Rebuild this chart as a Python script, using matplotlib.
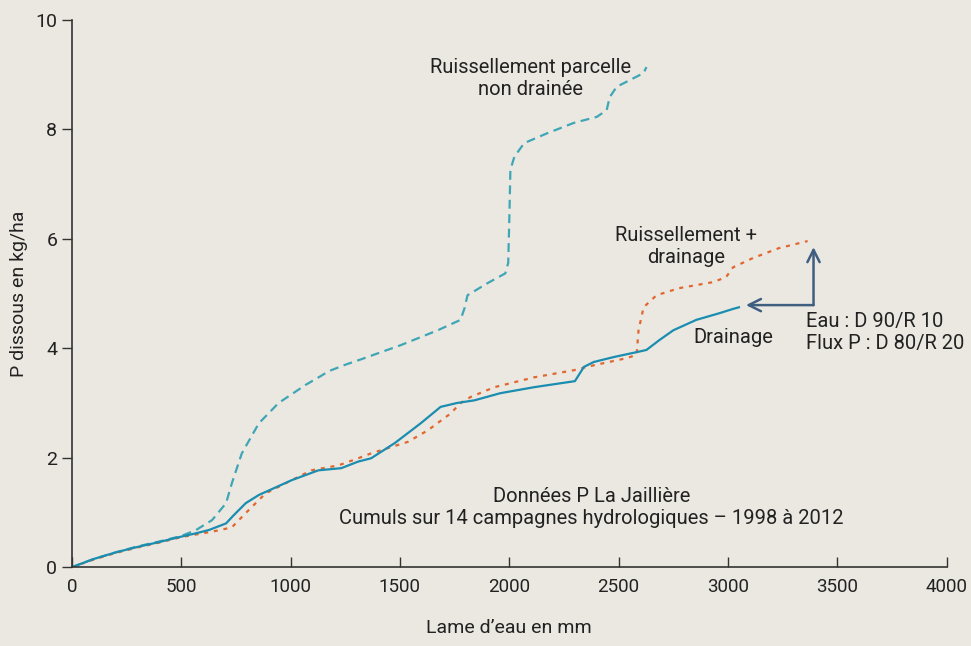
import numpy as np
import matplotlib
matplotlib.use("Agg")
import matplotlib.pyplot as plt

plt.rcParams['font.family'] = ['Roboto', 'DejaVu Sans']

# --- data
drain_x = [0, 100, 200, 300, 400, 491, 568, 627, 705, 740, 795, 855, 1005, 1127, 1232, 1309,
           1368, 1477, 1595, 1686, 1760, 1841, 1959, 2114, 2232, 2300, 2341, 2386, 2477, 2582,
           2627, 2686, 2750, 2855, 2959, 3023, 3050]
drain_y = [0, 0.15, 0.27, 0.37, 0.46, 0.55, 0.62, 0.68, 0.80, 0.95, 1.17, 1.32, 1.59, 1.77, 1.81, 1.93,
           1.99, 2.27, 2.63, 2.93, 3.00, 3.05, 3.18, 3.29, 3.36, 3.40, 3.66, 3.75, 3.84, 3.93,
           3.97, 4.15, 4.33, 4.52, 4.64, 4.72, 4.75]

both_x = [0, 100, 200, 300, 400, 500, 600, 680, 732, 795, 886, 1005, 1095, 1218, 1309, 1368,
          1536, 1627, 1732, 1777, 1823, 1932, 2114, 2295, 2386, 2536, 2582, 2591, 2614, 2673,
          2777, 2932, 2991, 3023, 3114, 3232, 3364]
both_y = [0, 0.14, 0.26, 0.36, 0.45, 0.55, 0.62, 0.68, 0.73, 0.99, 1.35, 1.59, 1.77, 1.86, 1.99, 2.08,
          2.29, 2.50, 2.81, 3.00, 3.11, 3.29, 3.47, 3.60, 3.69, 3.82, 3.88, 4.33, 4.75, 4.97,
          5.10, 5.21, 5.30, 5.48, 5.65, 5.83, 5.96]

runoff_x = [0, 100, 200, 300, 400, 500, 568, 641, 705, 732, 777, 855, 945, 1068, 1141, 1173,
            1250, 1323, 1505, 1673, 1777, 1795, 1809, 1900, 1982, 1995, 2000, 2005, 2023, 2068,
            2173, 2295, 2400, 2445, 2459, 2491, 2550, 2614, 2627]
runoff_y = [0, 0.15, 0.27, 0.38, 0.47, 0.57, 0.68, 0.86, 1.17, 1.54, 2.08, 2.63, 3.00, 3.33, 3.50, 3.58,
            3.70, 3.80, 4.06, 4.33, 4.52, 4.73, 4.97, 5.19, 5.37, 5.56, 6.34, 7.26, 7.50, 7.75,
            7.93, 8.12, 8.23, 8.35, 8.59, 8.78, 8.90, 9.03, 9.14]

bg = '#ebe8e1'
txt = '#222222'
fs = 14.5
fig = plt.figure(figsize=(9.71, 6.46), dpi=100, facecolor=bg)
ax = fig.add_axes([0.074, 0.122, 0.901, 0.847], facecolor=bg)

ax.plot(runoff_x, runoff_y, color='#3fa6b6', lw=1.6, dashes=(4, 2.5))
ax.plot(both_x, both_y, color='#e2672f', lw=1.6, dashes=(1.8, 2.6))
ax.plot(drain_x, drain_y, color='#1a8db0', lw=1.6)

ax.set_xlim(0, 4000)
ax.set_ylim(0, 10)
ax.set_xticks(np.arange(0, 4001, 500))
ax.set_yticks(np.arange(0, 11, 2))
for s in ['top', 'right']:
    ax.spines[s].set_visible(False)
for s in ['left', 'bottom']:
    ax.spines[s].set_color('#333333')
    ax.spines[s].set_linewidth(1.2)
ax.tick_params(axis='x', direction='in', length=7, width=1, colors='#333333',
               labelsize=13.5, pad=8, labelcolor=txt)
ax.tick_params(axis='y', direction='out', length=7, width=1, colors='#333333',
               labelsize=14, labelcolor=txt)
ax.set_xlabel("Lame d\u2019eau en mm", fontsize=14, color=txt, labelpad=16)
ax.set_ylabel("P dissous en kg/ha", fontsize=14, color=txt, labelpad=5)

ax.text(2098, 8.93, "Ruissellement parcelle\nnon drainée", ha='center', va='center',
        fontsize=fs, color=txt, linespacing=1.2)
ax.text(2809, 5.86, "Ruissellement +\ndrainage", ha='center', va='center',
        fontsize=fs, color=txt, linespacing=1.2)
ax.text(3023, 4.20, "Drainage", ha='center', va='center', fontsize=fs, color=txt)
ax.text(3355, 4.29, "Eau : D 90/R 10\nFlux P : D 80/R 20", ha='left', va='center',
        fontsize=fs, color=txt, linespacing=1.25)
ax.text(2377, 1.09, "Données P La Jaillière\nCumuls sur 14 campagnes hydrologiques \u2013 1998 à 2012",
        ha='center', va='center', fontsize=fs, color=txt, linespacing=1.25)

arrow_c = '#3f5f80'
ax.annotate('', xy=(3391, 5.85), xytext=(3391, 4.79),
            arrowprops=dict(arrowstyle='->', color=arrow_c, lw=1.8, mutation_scale=22, shrinkA=0, shrinkB=0))
ax.annotate('', xy=(3082, 4.79), xytext=(3391, 4.79),
            arrowprops=dict(arrowstyle='->', color=arrow_c, lw=1.8, mutation_scale=22, shrinkA=0, shrinkB=0))

fig.savefig('out.png', dpi=100, facecolor=bg)
